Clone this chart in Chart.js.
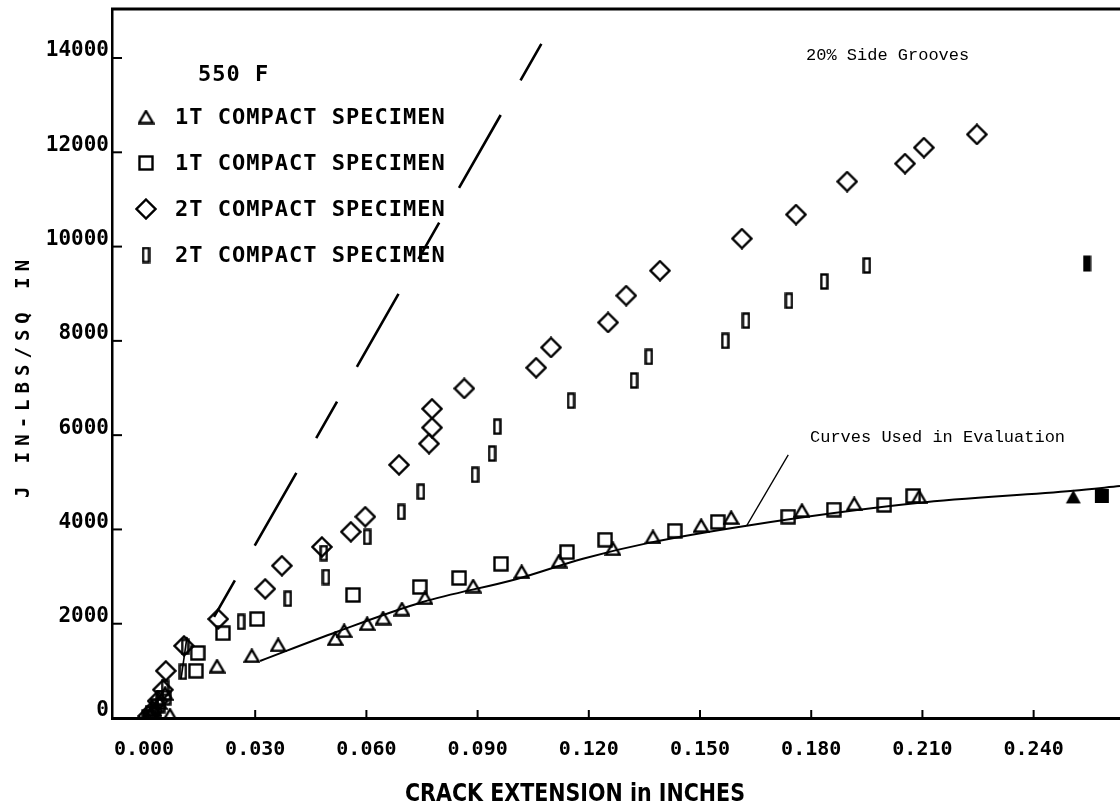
<!DOCTYPE html>
<html>
<head>
<meta charset="utf-8">
<script src="https://cdn.jsdelivr.net/npm/chart.js@4.4.1/dist/chart.umd.min.js"></script>
<style>
  html, body { margin: 0; padding: 0; background: #fff; }
  #wrap { width: 1120px; height: 808px; position: relative; }
</style>
</head>
<body>
<div id="wrap"><canvas id="c" width="1120" height="808"></canvas></div>
<script>
// J-resistance data at 550 F: crack extension (in) vs J (in-lb/sq in)

// 1T compact specimen, triangles
const tri1T_da = [0.0011, 0.0017, 0.0027, 0.0041, 0.0057, 0.0070, 0.0197, 0.0291, 0.0362, 0.0516, 0.0540, 0.0602, 0.0645, 0.0696, 0.0758, 0.0888, 0.1019, 0.1120, 0.1265, 0.1373, 0.1503, 0.1584, 0.1775, 0.1916, 0.2091];
const tri1T_J  = [0, 70, 180, 330, 520, 60, 1100, 1320, 1550, 1680, 1850, 2000, 2120, 2310, 2550, 2800, 3100, 3330, 3590, 3840, 4080, 4250, 4400, 4540, 4690];

// 1T compact specimen, squares
const sq1T_da = [0.0014, 0.0023, 0.0037, 0.0053, 0.0140, 0.0145, 0.0213, 0.0305, 0.0564, 0.0744, 0.0850, 0.0963, 0.1141, 0.1244, 0.1432, 0.1548, 0.1738, 0.1861, 0.1997, 0.2075];
const sq1T_J  = [20, 110, 260, 430, 1000, 1380, 1800, 2100, 2610, 2780, 2970, 3270, 3520, 3780, 3970, 4160, 4270, 4420, 4520, 4710];

// 2T compact specimen, diamonds (20% side grooves)
const dia2T_da = [0.0011, 0.0023, 0.0037, 0.0051, 0.0059, 0.0108, 0.0200, 0.0327, 0.0372, 0.0480, 0.0558, 0.0597, 0.0688, 0.0769, 0.0777, 0.0777, 0.0864, 0.1058, 0.1098, 0.1252, 0.1301, 0.1392, 0.1613, 0.1759, 0.1897, 0.2053, 0.2104, 0.2247];
const dia2T_J  = [40, 150, 360, 600, 1000, 1530, 2100, 2740, 3230, 3630, 3950, 4270, 5370, 5820, 6160, 6560, 6990, 7430, 7860, 8390, 8960, 9490, 10170, 10680, 11380, 11760, 12100, 12380];

// 2T compact specimen, narrow bars
const bar2T_da = [0.0016, 0.0029, 0.0043, 0.0057, 0.0105, 0.0111, 0.0262, 0.0388, 0.0491, 0.0485, 0.0602, 0.0694, 0.0747, 0.0893, 0.0939, 0.0953, 0.1152, 0.1322, 0.1362, 0.1568, 0.1624, 0.1740, 0.1835, 0.1950];
const bar2T_J  = [10, 230, 420, 640, 980, 1510, 2040, 2530, 2990, 3500, 3840, 4370, 4800, 5160, 5610, 6180, 6730, 7160, 7660, 8000, 8430, 8850, 9260, 9600];

// solid symbols at the far end of each test
const tri1T_end_da = [0.2507], tri1T_end_J = [4690];
const sq1T_end_da  = [0.2584], sq1T_end_J  = [4710];
const bar2T_end_da = [0.2544], bar2T_end_J = [9640];

// curve used in evaluation
const curve_da = [0.0313, 0.0521, 0.0752, 0.1006, 0.1184, 0.1365, 0.1626, 0.2086, 0.2507, 0.2633];
const curve_J  = [1210, 1830, 2460, 2950, 3380, 3720, 4080, 4560, 4820, 4920];

// blunting line (long dashes)
const blunt_da = [0.0189, 0.1074];
const blunt_J  = [2144, 14330];

// short lines: leader of the curve note, and the initial segment near the origin
const leader_da = [0.1738, 0.1626];
const leader_J  = [5580, 4080];
const start_da  = [0.0100, 0.0116];
const start_J   = [830, 1720];

// axes
const xTicks = [0.000, 0.030, 0.060, 0.090, 0.120, 0.150, 0.180, 0.210, 0.240];
const yTicks = [0, 2000, 4000, 6000, 8000, 10000, 12000, 14000];
const xMin = -0.00863, xMax = 0.2633;
const yMin = 0, yMax = 15040;

const legendTitle = '550 F';
const legendLabels = ['1T COMPACT SPECIMEN', '1T COMPACT SPECIMEN', '2T COMPACT SPECIMEN', '2T COMPACT SPECIMEN'];
const noteGrooves = '20% Side Grooves';
const noteCurves = 'Curves Used in Evaluation';
const xTitle = 'CRACK EXTENSION in INCHES';
const yTitle = 'J IN-LBS/SQ IN';

const pts = (xs, ys) => xs.map((x, i) => ({ x: x, y: ys[i] }));

// plotter-style symbols
function symbol(w, h, fn) {
  const c = document.createElement('canvas');
  c.width = w; c.height = h;
  const g = c.getContext('2d');
  g.lineWidth = 2.4; g.strokeStyle = '#000'; g.fillStyle = '#000'; g.lineJoin = 'miter';
  fn(g);
  return c;
}
const symTri = symbol(17, 15, g => { g.beginPath(); g.moveTo(8.5, 1.5); g.lineTo(15.5, 13.5); g.lineTo(1.5, 13.5); g.closePath(); g.stroke(); });
const symSq = symbol(16, 16, g => { g.strokeRect(1.5, 1.5, 13, 13); });
const symDia = symbol(22, 22, g => { g.beginPath(); g.moveTo(11, 1.5); g.lineTo(20.5, 11); g.lineTo(11, 20.5); g.lineTo(1.5, 11); g.closePath(); g.stroke(); });
const symBar = symbol(9, 17, g => { g.strokeRect(1.5, 1.5, 6, 14); });
const symTriF = symbol(17, 15, g => { g.beginPath(); g.moveTo(8.5, 0.5); g.lineTo(16, 14); g.lineTo(1, 14); g.closePath(); g.fill(); });
const symSqF = symbol(16, 16, g => { g.fillRect(1, 1, 14, 14); });
const symBarF = symbol(9, 17, g => { g.fillRect(0.5, 0.5, 8, 16); });

function scatter(label, data, style) {
  return { label, data, showLine: false, pointStyle: style, pointRadius: 8, pointHoverRadius: 8, borderColor: '#000', backgroundColor: '#000' };
}
function line(label, data, width, dash, tension) {
  return { label, data, showLine: true, pointRadius: 0, borderColor: '#000', borderWidth: width, borderDash: dash || [], tension: tension || 0, cubicInterpolationMode: tension ? 'monotone' : 'default', fill: false };
}

const decor = {
  id: 'decor',
  afterDraw(chart) {
    const ctx = chart.ctx;
    const a = chart.chartArea;
    const xs = chart.scales.x, ys = chart.scales.y;
    ctx.save();
    ctx.strokeStyle = '#000';
    ctx.fillStyle = '#000';

    // top frame line
    ctx.lineWidth = 3;
    ctx.beginPath(); ctx.moveTo(a.left - 1, a.top); ctx.lineTo(a.right, a.top); ctx.stroke();

    // inward tick marks
    ctx.lineWidth = 2;
    ys.ticks.forEach(t => {
      const y = ys.getPixelForValue(t.value);
      ctx.beginPath(); ctx.moveTo(a.left, y); ctx.lineTo(a.left + 10, y); ctx.stroke();
    });
    xs.ticks.forEach(t => {
      const x = xs.getPixelForValue(t.value);
      ctx.beginPath(); ctx.moveTo(x, a.bottom); ctx.lineTo(x, a.bottom - 8); ctx.stroke();
    });

    // legend
    ctx.font = 'bold 22px "DejaVu Sans Mono"';
    ctx.letterSpacing = '1px';
    ctx.textAlign = 'left';
    ctx.textBaseline = 'middle';
    ctx.fillText(legendTitle, 198, 75);
    const rows = [117, 163, 209, 255];
    const syms = [symTri, symSq, symDia, symBar];
    rows.forEach((y, i) => {
      const s = syms[i];
      ctx.drawImage(s, 146 - s.width / 2, y - s.height / 2);
      ctx.fillText(legendLabels[i], 175, y + 1);
    });

    // notes
    ctx.letterSpacing = '0px';
    ctx.font = '17px "Liberation Mono"';
    ctx.fillText(noteGrooves, 806, 55);
    ctx.fillText(noteCurves, 810, 437);

    // axis titles
    ctx.save();
    ctx.font = 'bold 19px "DejaVu Sans Mono"';
    ctx.letterSpacing = '6px';
    ctx.translate(24, 376);
    ctx.rotate(-Math.PI / 2);
    ctx.textAlign = 'center';
    ctx.fillText(yTitle, 0, 0);
    ctx.restore();

    ctx.save();
    ctx.font = 'bold 24px "DejaVu Sans"';
    const w = ctx.measureText(xTitle).width;
    ctx.translate(575, 795);
    ctx.scale(340 / w, 1);
    ctx.textAlign = 'center';
    ctx.fillText(xTitle, 0, 0);
    ctx.restore();

    ctx.restore();
  }
};

new Chart(document.getElementById('c'), {
  type: 'scatter',
  data: {
    datasets: [
      line('blunting', pts(blunt_da, blunt_J), 2.6, [42, 40, 84, 40]),
      line('curve', pts(curve_da, curve_J), 2, null, 0.4),
      line('leader', pts(leader_da, leader_J), 1.3),
      line('start', pts(start_da, start_J), 1.6),
      scatter('1T triangles', pts(tri1T_da, tri1T_J), symTri),
      scatter('1T squares', pts(sq1T_da, sq1T_J), symSq),
      scatter('2T diamonds', pts(dia2T_da, dia2T_J), symDia),
      scatter('2T bars', pts(bar2T_da, bar2T_J), symBar),
      scatter('1T triangle end', pts(tri1T_end_da, tri1T_end_J), symTriF),
      scatter('1T square end', pts(sq1T_end_da, sq1T_end_J), symSqF),
      scatter('2T bar end', pts(bar2T_end_da, bar2T_end_J), symBarF)
    ]
  },
  options: {
    responsive: false,
    animation: false,
    devicePixelRatio: 1,
    layout: { autoPadding: false, padding: { top: 9, right: 0, left: 0, bottom: 0 } },
    plugins: { legend: { display: false }, tooltip: { enabled: false } },
    scales: {
      x: {
        type: 'linear', min: xMin, max: xMax,
        afterBuildTicks: s => { s.ticks = xTicks.map(v => ({ value: v })); },
        afterFit: s => { s.height = 90; s.paddingLeft = 0; s.paddingRight = 0; },
        grid: { display: false, drawTicks: false },
        border: { display: true, color: '#000', width: 3 },
        ticks: {
          autoSkip: false, maxRotation: 0, minRotation: 0, padding: 20, color: '#000',
          font: { family: '"DejaVu Sans Mono"', size: 20, weight: 'bold' },
          callback: v => Number(v).toFixed(3)
        }
      },
      y: {
        type: 'linear', min: yMin, max: yMax,
        afterBuildTicks: s => { s.ticks = yTicks.map(v => ({ value: v })); },
        afterFit: s => { s.width = 112; s.paddingTop = 0; s.paddingBottom = 0; },
        grid: { display: false, drawTicks: false },
        border: { display: true, color: '#000', width: 2.5 },
        ticks: {
          padding: 3, labelOffset: -7, color: '#000',
          font: { family: '"DejaVu Sans Mono"', size: 21, weight: 'bold' },
          callback: v => String(v)
        }
      }
    }
  },
  plugins: [decor]
});
</script>
</body>
</html>
